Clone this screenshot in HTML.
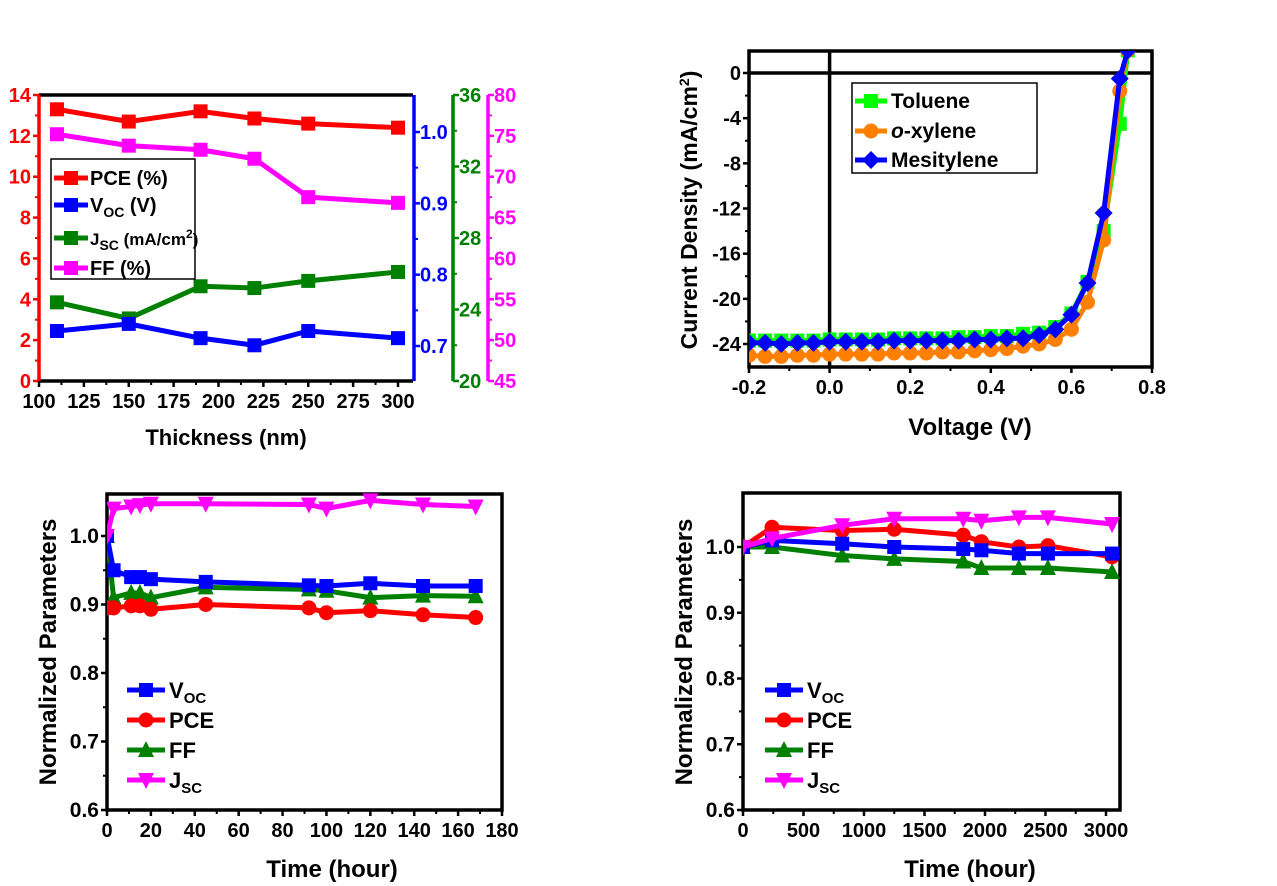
<!DOCTYPE html>
<html><head><meta charset="utf-8"><style>
html,body{margin:0;padding:0;background:#fff}
svg{display:block;font-family:"Liberation Sans",Arial,sans-serif;font-weight:bold}
</style></head><body>
<svg id="fig" width="1277" height="886" viewBox="0 0 1277 886" xmlns="http://www.w3.org/2000/svg"></svg>
<script>
// ---------- Panel A data ----------
const thickness = [110,150,190,220,250,300];
const pceA = [13.3,12.7,13.2,12.85,12.6,12.4];
const vocA = [0.721,0.731,0.711,0.701,0.721,0.711];
const jscA = [24.4,23.5,25.3,25.2,25.6,26.1];
const ffA  = [75.2,73.8,73.3,72.2,67.5,66.8];
const xTicksA = [100,125,150,175,200,225,250,275,300];
const pceTicks = [0,2,4,6,8,10,12,14];
const vocTicks = [0.7,0.8,0.9,1.0];
const jscTicks = [20,24,28,32,36];
const ffTicks = [45,50,55,60,65,70,75,80];
// ---------- Panel B data ----------
const voltage = [-0.2,-0.16,-0.12,-0.08,-0.04,0,0.04,0.08,0.12,0.16,0.2,0.24,0.28,0.32,0.36,0.4,0.44,0.48,0.52,0.56,0.6,0.64,0.68,0.72,0.74];
const toluene = [-23.7,-23.7,-23.7,-23.7,-23.7,-23.6,-23.6,-23.6,-23.6,-23.5,-23.5,-23.5,-23.5,-23.4,-23.4,-23.3,-23.3,-23.1,-23.0,-22.5,-21.3,-18.5,-14.0,-4.5,2.0];
const oxylene = [-25.0,-25.1,-25.1,-25.0,-25.0,-24.9,-24.9,-24.9,-24.9,-24.8,-24.8,-24.8,-24.7,-24.7,-24.6,-24.5,-24.4,-24.2,-24.0,-23.6,-22.7,-20.3,-14.8,-1.6,2.0];
const mesitylene = [-23.9,-23.9,-24.0,-23.9,-23.9,-23.8,-23.8,-23.8,-23.8,-23.7,-23.7,-23.7,-23.7,-23.7,-23.6,-23.6,-23.5,-23.5,-23.2,-22.7,-21.4,-18.6,-12.4,-0.5,2.0];
const vTicks = [-0.2,0.0,0.2,0.4,0.6,0.8];
const jTicks = [0,-4,-8,-12,-16,-20,-24];
// ---------- Panel C data ----------
const timeC = [0,3,11,15,20,45,92,100,120,144,168];
const vocC = [1.0,0.95,0.94,0.94,0.937,0.933,0.928,0.927,0.931,0.927,0.927];
const pceC = [0.895,0.895,0.898,0.898,0.893,0.9,0.895,0.888,0.891,0.885,0.881];
const ffC  = [1.0,0.91,0.917,0.917,0.91,0.925,0.922,0.92,0.91,0.913,0.912];
const jscC = [1.0,1.04,1.043,1.045,1.047,1.047,1.046,1.04,1.052,1.046,1.043];
const xTicksC = [0,20,40,60,80,100,120,140,160,180];
// ---------- Panel D data ----------
const timeD = [0,240,820,1250,1820,1970,2280,2520,3050];
const vocD = [1.0,1.01,1.005,1.0,0.997,0.995,0.99,0.99,0.99];
const pceD = [1.0,1.03,1.025,1.027,1.018,1.008,1.0,1.002,0.985];
const ffD  = [1.0,1.0,0.987,0.982,0.978,0.968,0.968,0.968,0.962];
const jscD = [1.0,1.013,1.033,1.043,1.043,1.04,1.045,1.045,1.035];
const xTicksD = [0,500,1000,1500,2000,2500,3000];
const normTicks = [0.6,0.7,0.8,0.9,1.0];

const NS="http://www.w3.org/2000/svg";
const svg=document.getElementById('fig');
function el(tag,attrs,parent,text){const e=document.createElementNS(NS,tag);for(const k in attrs)e.setAttribute(k,attrs[k]);if(text!==undefined)e.textContent=text;(parent||svg).appendChild(e);return e;}
function lin(d0,d1,r0,r1){return v=>r0+(v-d0)*(r1-r0)/(d1-d0);}
function marker(g,shape,x,y,c,s){
  let m;
  if(shape==='sq') m=el('rect',{x:x-s,y:y-s,width:2*s,height:2*s,fill:c},g);
  else if(shape==='ci') m=el('circle',{cx:x,cy:y,r:s+0.5,fill:c},g);
  else if(shape==='up') m=el('polygon',{points:`${x},${y-s-2} ${x-s-1},${y+s} ${x+s+1},${y+s}`,fill:c},g);
  else if(shape==='dn') m=el('polygon',{points:`${x},${y+s+2} ${x-s-1},${y-s} ${x+s+1},${y-s}`,fill:c},g);
  else if(shape==='di') m=el('polygon',{points:`${x},${y-s-2} ${x+s+2},${y} ${x},${y+s+2} ${x-s-2},${y}`,fill:c},g);
  
  
  return m;
}
function series(name,xs,ys,sx,sy,c,shape,s,w){
  const g=el('g',{});
  
  
  el('polyline',{points:xs.map((x,i)=>sx(x)+','+sy(ys[i])).join(' '),fill:'none',stroke:c,'stroke-width':w||5,'stroke-linejoin':'round'},g);
  xs.forEach((x,i)=>marker(g,shape,sx(x),sy(ys[i]),c,s));
  return g;
}
function frame(name,x0,y0,x1,y1){
  const r=el('rect',{x:x0,y:y0,width:x1-x0,height:y1-y0,fill:'none',stroke:'#000','stroke-width':3.5});
  
  
}
function xAxis(name,ticks,sx,y,fmt,fs){
  const g=el('g',{});
  
  
  ticks.forEach((t,i)=>{const x=sx(t);el('line',{x1:x,y1:y,x2:x,y2:y+6,stroke:'#000','stroke-width':2.5},g);
    if(i<ticks.length-1){const xm=(x+sx(ticks[i+1]))/2;el('line',{x1:xm,y1:y,x2:xm,y2:y+4,stroke:'#000','stroke-width':2},g);}
    el('text',{x:x,y:y+27,'text-anchor':'middle','font-size':fs||20,fill:'#000'},g,fmt?fmt(t):t);});
}
function yAxisLeft(name,ticks,sy,x,fmt,c,fs){
  const g=el('g',{});
  
  
  ticks.forEach((t,i)=>{const y=sy(t);el('line',{x1:x-6,y1:y,x2:x,y2:y,stroke:c,'stroke-width':2.5},g);
    if(i<ticks.length-1){const ym=(y+sy(ticks[i+1]))/2;el('line',{x1:x-4,y1:ym,x2:x,y2:ym,stroke:c,'stroke-width':2},g);}
    el('text',{x:x-8,y:y+7,'text-anchor':'end','font-size':fs||20,fill:c},g,fmt?fmt(t):t);});
}
function title(name,x,y,txt,rot,fs){
  const t=el('text',{x:x,y:y,'text-anchor':'middle','font-size':fs||24,fill:'#000',transform:rot?`rotate(-90 ${x} ${y})`:''},svg,txt);
  
  
  return t;
}

// ===== Panel A =====
(function(){
  const X0=39,X1=413,Y0=95,Y1=381;
  const sx=lin(100,300,39,398);
  const sP=lin(0,14,Y1,Y0), sV=lin(0.7,1.0,346,132), sJ=lin(20,36,Y1,Y0), sF=lin(45,80,Y1,Y0);
  el('line',{x1:X0,y1:Y0,x2:X1,y2:Y0,stroke:'#000','stroke-width':3.5});
  el('line',{x1:X0,y1:Y1,x2:X1,y2:Y1,stroke:'#000','stroke-width':3.5});
  const la=el('line',{x1:X0,y1:Y0,x2:X0,y2:Y1,stroke:'#f00','stroke-width':3.5});
  
  yAxisLeft('pce-ticks',pceTicks,sP,X0,null,'#f00',20);
  function rAxis(name,x,ticks,sy,c,fmt){
    const g=el('g',{});
    
    
    el('line',{x1:x,y1:Y0,x2:x,y2:Y1,stroke:c,'stroke-width':3.5},g);
    ticks.forEach((t,i)=>{const y=sy(t);el('line',{x1:x,y1:y,x2:x+6,y2:y,stroke:c,'stroke-width':2.5},g);
      if(i<ticks.length-1){const ym=(y+sy(ticks[i+1]))/2;el('line',{x1:x,y1:ym,x2:x+4,y2:ym,stroke:c,'stroke-width':2},g);}
      el('text',{x:x+6,y:y+7,'font-size':20,fill:c},g,fmt?fmt(t):t);});
  }
  rAxis('voc-axis',414,vocTicks,sV,'#00f',t=>t.toFixed(1));
  rAxis('jsc-axis',453,jscTicks,sJ,'#008000');
  rAxis('ff-axis',488,ffTicks,sF,'#f0f');
  xAxis('thickness-axis',xTicksA,sx,Y1,null,20);
  title('x-axis-title-thickness',226,445,'Thickness (nm)',false,22);
  series('series-pce',thickness,pceA,sx,sP,'#f00','sq',7);
  series('series-ff',thickness,ffA,sx,sF,'#f0f','sq',7);
  series('series-jsc',thickness,jscA,sx,sJ,'#008000','sq',7);
  series('series-voc',thickness,vocA,sx,sV,'#00f','sq',7);
  const lg=el('g',{});
  
  
  el('rect',{x:51,y:159,width:144,height:120,fill:'#fff',stroke:'#000','stroke-width':1.5},lg);
  const items=[['#f00','PCE (%)',178],['#00f','V<tspan font-size="14" dy="5">OC</tspan><tspan dy="-5"> (V)</tspan>',205],['#008000','J<tspan font-size="14" dy="5">SC</tspan><tspan dy="-5"> (mA/cm</tspan><tspan font-size="12" dy="-7">2</tspan><tspan dy="7">)</tspan>',238],['#f0f','FF (%)',268]];
  items.forEach(it=>{
    el('line',{x1:54,y1:it[2],x2:88,y2:it[2],stroke:it[0],'stroke-width':5},lg);
    el('rect',{x:64,y:it[2]-7,width:14,height:14,fill:it[0]},lg);
    const t=el('text',{x:90,y:it[2]+7,'font-size':it[2]===238?17:20,fill:'#000'},lg);t.innerHTML=it[1];
    
  });
})();

// ===== Panel B =====
(function(){
  const X0=749,X1=1152,Y0=51,Y1=367;
  const sx=lin(-0.2,0.8,X0,X1), sy=lin(0,-24,73,344);
  const clip=el('clipPath',{id:'cpB'});el('rect',{x:X0,y:Y0,width:X1-X0,height:Y1-Y0},clip);
  frame('jv-plot-frame',X0,Y0,X1,Y1);
  el('line',{x1:X0,y1:sy(0),x2:X1,y2:sy(0),stroke:'#000','stroke-width':3.5});
  el('line',{x1:sx(0),y1:Y0,x2:sx(0),y2:Y1,stroke:'#000','stroke-width':3.5});
  xAxis('voltage-axis',vTicks,sx,Y1,t=>t.toFixed(1),20);
  yAxisLeft('current-density-axis',jTicks,sy,X0,null,'#000',20);
  const g=el('g',{'clip-path':'url(#cpB)'});
  g.appendChild(series('series-toluene',voltage,toluene,sx,sy,'#0f0','sq',7));
  g.appendChild(series('series-o-xylene',voltage,oxylene,sx,sy,'#ff8000','ci',7));
  g.appendChild(series('series-mesitylene',voltage,mesitylene,sx,sy,'#00f','di',7));
  title('x-axis-title-voltage',970,435,'Voltage (V)',false,24);
  const yt=title('y-axis-title-current-density',697,210,'',true,23);
  yt.innerHTML='Current Density (mA/cm<tspan font-size="14" dy="-8">2</tspan><tspan dy="8">)</tspan>';
  const lg=el('g',{});
  
  
  el('rect',{x:852,y:83,width:185,height:90,fill:'#fff',stroke:'#000','stroke-width':1.5},lg);
  [['#0f0','Toluene',101,'sq'],['#ff8000','<tspan font-style="italic">o</tspan>-xylene',131,'ci'],['#00f','Mesitylene',160,'di']].forEach(it=>{
    el('line',{x1:855,y1:it[2],x2:887,y2:it[2],stroke:it[0],'stroke-width':5},lg);
    marker(lg,it[3],871,it[2],it[0],7);
    const t=el('text',{x:891,y:it[2]+7,'font-size':21,fill:'#000'},lg);t.innerHTML=it[1];
    
  });
})();

// ===== Normalized panels =====
function normPanel(pfx,X0,X1,Y0,Y1,sx,sy,xt,t,voc,pce,ff,jsc,lx,tx,ytx){
  const clip=el('clipPath',{id:'cp'+pfx});el('rect',{x:X0,y:Y0-4,width:X1-X0,height:Y1-Y0+4},clip);
  frame(pfx+'-plot-frame',X0,Y0,X1,Y1);
  xAxis(pfx+'-time-axis',xt,sx,Y1,null,20);
  yAxisLeft(pfx+'-normalized-axis',normTicks,sy,X0,v=>v.toFixed(1),'#000',21);
  const g=el('g',{'clip-path':'url(#cp'+pfx+')'});
  g.appendChild(series(pfx+'-series-ff',t,ff,sx,sy,'#008000','up',7));
  g.appendChild(series(pfx+'-series-pce',t,pce,sx,sy,'#f00','ci',7));
  g.appendChild(series(pfx+'-series-voc',t,voc,sx,sy,'#00f','sq',7));
  g.appendChild(series(pfx+'-series-jsc',t,jsc,sx,sy,'#f0f','dn',7));
  title(pfx+'-x-axis-title',tx,877,'Time (hour)',false,24);
  title(pfx+'-y-axis-title',ytx,652,'Normalized Parameters',true,24);
  const lg=el('g',{});
  
  
  [['#00f','V<tspan font-size="15" dy="5">OC</tspan>',690,'sq'],['#f00','PCE',720,'ci'],['#008000','FF',750,'up'],['#f0f','J<tspan font-size="15" dy="5">SC</tspan>',780,'dn']].forEach(it=>{
    el('line',{x1:lx,y1:it[2],x2:lx+38,y2:it[2],stroke:it[0],'stroke-width':5},lg);
    marker(lg,it[3],lx+19,it[2],it[0],7);
    const tt=el('text',{x:lx+42,y:it[2]+8,'font-size':22,fill:'#000'},lg);tt.innerHTML=it[1];
    
  });
}
normPanel('aging-short',107,502,494,810,lin(0,180,107,502),lin(0.6,1.0,810,536),xTicksC,timeC,vocC,pceC,ffC,jscC,127,332,56);
normPanel('aging-long',743,1120,493,810,lin(0,3000,743,1106),lin(0.6,1.0,810,547),xTicksD,timeD,vocD,pceD,ffD,jscD,765,970,692);
</script>
</body></html>
